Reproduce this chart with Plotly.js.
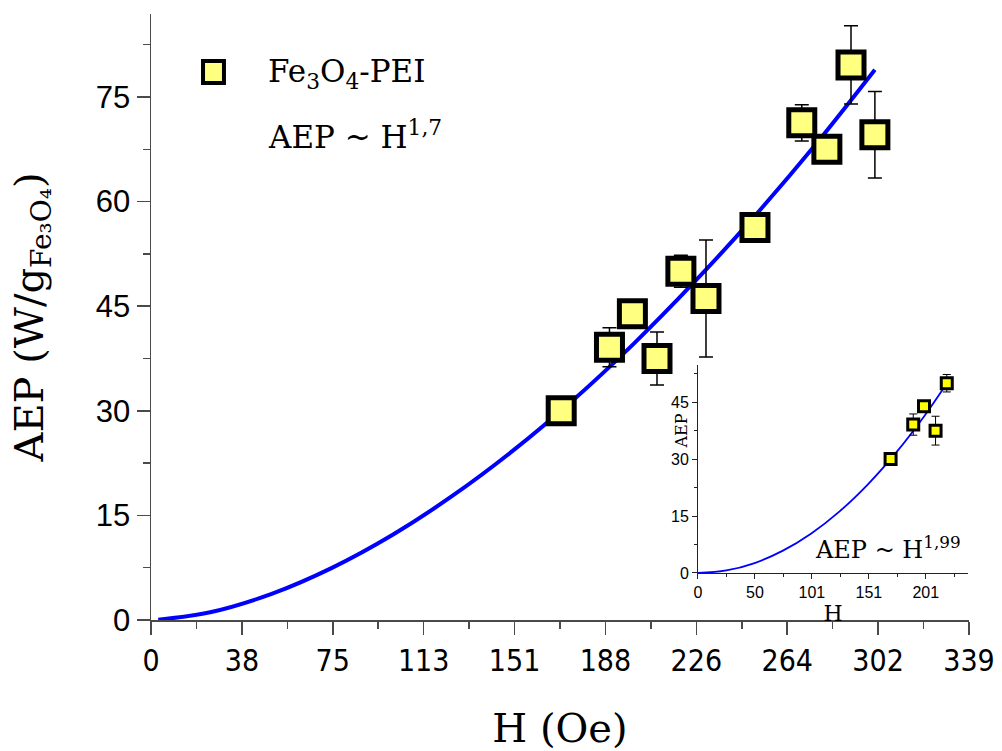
<!DOCTYPE html>
<html>
<head>
<meta charset="utf-8">
<script src="https://cdn.plot.ly/plotly-3.0.1.min.js"></script>
<style>
html,body{margin:0;padding:0;background:#fff;}
#chart{width:1002px;height:751px;}
</style>
</head>
<body>
<div id="chart"></div>
<script>
// Measured data: Fe3O4-PEI
const H = [170, 190, 199.5, 209.7, 219.6, 230, 250.3, 269.7, 280.1, 290.1, 300];
const AEP = [30, 39.1, 43.9, 37.5, 50.0, 46.1, 56.3, 71.3, 67.5, 79.6, 69.6];
const AEP_err = [0.4, 2.8, 1.2, 3.8, 2.3, 8.4, 1.0, 2.6, 1.2, 5.6, 6.2];

// Fit curve (AEP ~ H^1.7)
const fitH = [3, 25, 50, 75, 100, 125, 150, 175, 200, 225, 250, 275, 300];
const fitAEP = [0.03, 1.15, 3.75, 7.48, 12.19, 17.82, 24.28, 31.55, 39.6, 48.4, 57.85, 68.0, 78.9];

// Inset: first five points, fit AEP ~ H^1.99
const insetN = 5;
const insetFitH = [0, 25, 50, 75, 100, 125, 150, 175, 200, 219.3];
const insetFitAEP = [0, 0.66, 2.62, 5.88, 10.42, 16.24, 23.37, 31.77, 41.45, 49.8];

// Tick labels
const xTickVals = [0, 37.67, 75.33, 113, 150.67, 188.33, 226, 263.67, 301.33, 339];
const xTickText = ['0', '38', '75', '113', '151', '188', '226', '264', '302', '339'];
const insetTickVals = [0, 50.27, 100.53, 150.8, 201.07];
const insetTickText = ['0', '50', '101', '151', '201'];

const serif = 'DejaVu Serif, Liberation Serif, serif';
const sansC = 'DejaVu Sans Condensed, Liberation Sans Narrow, Liberation Sans, sans-serif';
const axisCol = '#4a4a4a';

const traces = [
  {
    x: fitH, y: fitAEP, type: 'scatter', mode: 'lines', line: {color: '#0000ff', width: 4, shape: 'spline'},
    xaxis: 'x', yaxis: 'y', showlegend: false, hoverinfo: 'skip', cliponaxis: false
  },
  {
    x: H, y: AEP, type: 'scatter', mode: 'markers', name: 'Fe3O4-PEI',
    error_y: {type: 'data', array: AEP_err, visible: true, color: '#000', thickness: 1.5, width: 7},
    marker: {symbol: 'square', size: 26, color: '#ffff80', line: {color: '#000', width: 5}},
    xaxis: 'x', yaxis: 'y', showlegend: false, cliponaxis: false
  },
  {
    x: insetFitH, y: insetFitAEP, type: 'scatter', mode: 'lines', line: {color: '#0000ff', width: 1.8, shape: 'spline'},
    xaxis: 'x2', yaxis: 'y2', showlegend: false, hoverinfo: 'skip', cliponaxis: false
  },
  {
    x: H.slice(0, insetN), y: AEP.slice(0, insetN), type: 'scatter', mode: 'markers',
    error_y: {type: 'data', array: AEP_err.slice(0, insetN), visible: true, color: '#000', thickness: 1, width: 4},
    marker: {symbol: 'square', size: 11, color: '#ffff00', line: {color: '#000', width: 3}},
    xaxis: 'x2', yaxis: 'y2', showlegend: false, cliponaxis: false
  }
];

const layout = {
  width: 1002, height: 751,
  margin: {l: 151, r: 33, t: 14, b: 131},
  paper_bgcolor: '#fff', plot_bgcolor: 'rgba(0,0,0,0)',
  showlegend: false,
  xaxis: {
    domain: [0, 1], range: [0, 339], tickmode: 'array', tickvals: xTickVals, ticktext: xTickText,
    ticks: 'outside', ticklen: 13, tickwidth: 1.5, tickcolor: axisCol,
    minor: {tickmode: 'linear', tick0: 0, dtick: 18.833, ticks: 'outside', ticklen: 7, tickwidth: 1.5, tickcolor: axisCol, showgrid: false},
    showline: true, linecolor: axisCol, linewidth: 1.5, showgrid: false, zeroline: false,
    tickfont: {family: sansC, size: 30, color: '#000'},
    title: {text: 'H (Oe)', font: {family: serif, size: 40, color: '#000'}, standoff: 38},
    anchor: 'y'
  },
  yaxis: {
    domain: [0, 1], range: [0, 86.9], tickmode: 'linear', tick0: 0, dtick: 15,
    ticks: 'outside', ticklen: 13, tickwidth: 1.5, tickcolor: axisCol,
    minor: {tickmode: 'linear', tick0: 0, dtick: 7.5, ticks: 'outside', ticklen: 7, tickwidth: 1.5, tickcolor: axisCol, showgrid: false},
    showline: true, linecolor: axisCol, linewidth: 1.5, showgrid: false, zeroline: false,
    tickfont: {family: 'Liberation Sans, Arial, sans-serif', size: 31, color: '#000'},
    title: {text: 'AEP (W/g<sub>Fe₃O₄</sub>)', font: {family: serif, size: 40, color: '#000'}, standoff: 40},
    anchor: 'x'
  },
  xaxis3: {
    overlaying: 'x', side: 'top', range: [0, 339], tickmode: 'array', tickvals: xTickVals,
    showticklabels: false, ticks: 'inside', ticklen: 4, tickwidth: 1.5, tickcolor: axisCol,
    minor: {tickmode: 'linear', tick0: 0, dtick: 18.833, ticks: 'inside', ticklen: 4, tickwidth: 1.5, tickcolor: axisCol},
    showline: true, linecolor: axisCol, linewidth: 1.5, showgrid: false, zeroline: false, anchor: 'y3'
  },
  yaxis3: {
    overlaying: 'y', side: 'right', range: [0, 86.9], tickmode: 'linear', tick0: 0, dtick: 15,
    showticklabels: false, ticks: 'inside', ticklen: 4, tickwidth: 1.5, tickcolor: axisCol,
    minor: {tickmode: 'linear', tick0: 0, dtick: 7.5, ticks: 'inside', ticklen: 4, tickwidth: 1.5, tickcolor: axisCol},
    showline: true, linecolor: axisCol, linewidth: 1.5, showgrid: false, zeroline: false, anchor: 'x3'
  },
  xaxis2: {
    domain: [0.6687, 0.999], range: [0, 238.5], anchor: 'y2',
    tickmode: 'array', tickvals: insetTickVals, ticktext: insetTickText,
    ticks: 'outside', ticklen: 5, tickwidth: 1, tickcolor: '#222',
    minor: {tickmode: 'linear', tick0: 0, dtick: 25.133, ticks: 'outside', ticklen: 3, tickwidth: 1, tickcolor: '#222'},
    showline: true, linecolor: '#222', linewidth: 1, showgrid: false, zeroline: false,
    tickfont: {family: 'Liberation Sans, Arial, sans-serif', size: 16, color: '#000'},
    title: {text: 'H', font: {family: serif, size: 22, color: '#000'}, standoff: 0}
  },
  yaxis2: {
    domain: [0.0776, 0.4208], range: [0, 54.8], anchor: 'x2',
    tickmode: 'linear', tick0: 0, dtick: 15,
    ticks: 'outside', ticklen: 5, tickwidth: 1, tickcolor: '#222',
    minor: {tickmode: 'linear', tick0: 0, dtick: 7.5, ticks: 'outside', ticklen: 3, tickwidth: 1, tickcolor: '#222'},
    showline: true, linecolor: '#222', linewidth: 1, showgrid: false, zeroline: false,
    tickfont: {family: 'Liberation Sans, Arial, sans-serif', size: 16, color: '#000'}
  },
  shapes: [
    {type: 'rect', xref: 'paper', yref: 'paper', x0: 0.0636, x1: 0.0892, y0: 0.886, y1: 0.9224,
     fillcolor: '#ffff80', line: {color: '#000', width: 4}}
  ],
  annotations: [
    {xref: 'paper', yref: 'paper', x: 0.1406, y: 0.9026, xanchor: 'left', yanchor: 'middle', showarrow: false,
     text: 'Fe<sub>3</sub>O<sub>4</sub>-PEI', font: {family: serif, size: 31, color: '#000'}},
    {xref: 'paper', yref: 'paper', x: 0.1406, y: 0.80, xanchor: 'left', yanchor: 'middle', showarrow: false,
     text: 'AEP ~ H<sup>1,7</sup>', font: {family: serif, size: 31, color: '#000'}},
    {xref: 'paper', yref: 'paper', x: 0.9927, y: 0.119, xanchor: 'right', yanchor: 'middle', showarrow: false,
     text: 'AEP ~ H<sup>1,99</sup>', font: {family: serif, size: 24, color: '#000'}},
    {xref: 'paper', yref: 'paper', x: 0.6480, y: 0.311, xanchor: 'center', yanchor: 'middle', showarrow: false,
     textangle: -90, text: 'AEP', font: {family: serif, size: 16, color: '#000'}}
  ]
};

Plotly.newPlot('chart', traces, layout, {staticPlot: true, displayModeBar: false});
</script>
</body>
</html>
